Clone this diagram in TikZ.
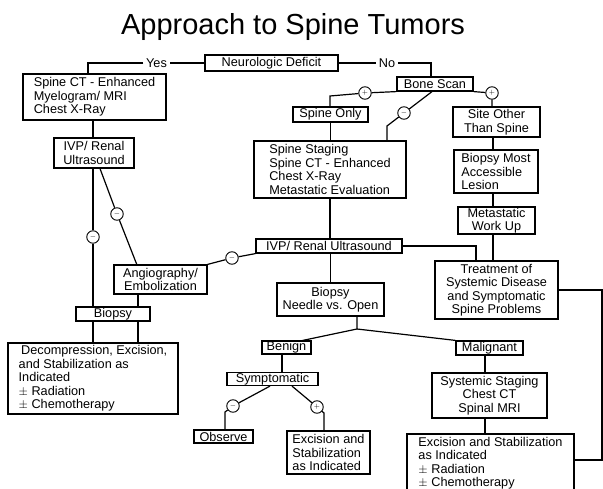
\documentclass[tikz,border=0pt]{standalone}
\usepackage{fontspec}
\setmainfont{Liberation Sans}
\begin{document}
\begin{tikzpicture}[x=1pt,y=-1pt,
  box/.style={draw, line width=1.2pt, inner sep=0pt, align=center, font=\fontsize{12.7}{13.5}\selectfont},
  lbox/.style={box, align=left},
  lbl/.style={fill=white, inner xsep=2.5pt, inner ysep=1pt, font=\fontsize{12.7}{13.5}\selectfont},
  circ/.style={draw, circle, fill=white, line width=0.9pt, minimum size=12.5pt, inner sep=0pt, font=\fontsize{7}{7}\selectfont},
  conn/.style={line width=1.2pt}]
\useasboundingbox (0,0) rectangle (603,489);
\clip (0,0) rectangle (603,489);
\fill[white] (0,0) rectangle (603,489);

% title
\node[font=\fontsize{29}{30}\selectfont, anchor=base, inner sep=0pt] (title) at (293,35) {Approach to Spine Tumors};

% nodes
\node[box, minimum width=133pt, minimum height=16pt] (nd) at (271.5,63) {Neurologic Deficit};
\node[lbox, minimum width=143pt, minimum height=46pt] (sct) at (94.5,97) {Spine CT - Enhanced\\Myelogram/ MRI\\Chest X-Ray};
\node[box, minimum width=80pt, minimum height=30pt] (ivpl) at (94,153) {IVP/ Renal\\Ultrasound};
\node[box, minimum width=93pt, minimum height=29pt] (ang) at (160.5,279.5) {Angiography/\\Embolization};
\node[box, minimum width=74pt, minimum height=14pt] (bl) at (113,314) {Biopsy};
\node[lbox, minimum width=170pt, minimum height=71pt] (dec) at (93,378.5) {\hspace{2.5pt}Decompression, Excision,\\and Stabilization as\\Indicated\\$\pm$ Radiation\\$\pm$ Chemotherapy};

\node[box, minimum width=76pt, minimum height=14pt] (bs) at (435,84) {Bone Scan};
\node[box, minimum width=75pt, minimum height=15pt] (so) at (330.5,114.5) {Spine Only};
\node[lbox, minimum width=152pt, minimum height=57pt] (ss) at (330,169.5) {Spine Staging\\Spine CT - Enhanced\\Chest X-Ray\\Metastatic Evaluation};
\node[box, minimum width=87pt, minimum height=30pt] (sot) at (496.5,122) {Site Other\\Than Spine};
\node[lbox, minimum width=84pt, minimum height=43pt] (bma) at (496,171.5) {Biopsy Most\\Accessible\\Lesion};
\node[box, minimum width=77pt, minimum height=27pt] (mwu) at (496.5,220.5) {Metastatic\\Work Up};
\node[box, minimum width=146pt, minimum height=14pt] (ivpc) at (329,246) {IVP/ Renal Ultrasound};
\node[box, minimum width=123pt, minimum height=58pt] (trt) at (496.5,290) {Treatment of\\Systemic Disease\\and Symptomatic\\Spine Problems};
\node[box, minimum width=107pt, minimum height=33pt] (bno) at (330.5,299.5) {Biopsy\\Needle vs. Open};
\node[box, minimum width=49pt, minimum height=13pt] (ben) at (286.5,347.5) {Benign};
\node[box, minimum width=67pt, minimum height=14pt] (mal) at (489.5,348) {Malignant};
\node[box, minimum width=91pt, minimum height=13pt] (sym) at (272.5,379) {Symptomatic};
\node[box, minimum width=59pt, minimum height=13pt] (obs) at (223.5,436.5) {Observe};
\node[lbox, minimum width=83pt, minimum height=43pt] (exs) at (328.5,452.5) {Excision and\\Stabilization\\as Indicated};
\node[box, minimum width=115pt, minimum height=45pt] (sys) at (489.5,395.5) {Systemic Staging\\Chest CT\\Spinal MRI};
\node[lbox, minimum width=167pt, minimum height=58pt] (exl) at (490.5,463) {Excision and Stabilization\\as Indicated\\$\pm$ Radiation\\$\pm$ Chemotherapy};

% labels
\node[lbl] (yes) at (156.5,63) {Yes};
\node[lbl] (no) at (387,63) {No};

% circles
\node[circ] (c1) at (93,237) {$-$};
\node[circ] (c2) at (117,214) {$-$};
\node[circ] (c3) at (232,258) {$-$};
\node[circ] (c4) at (365,93) {$+$};
\node[circ] (c5) at (404,113) {$-$};
\node[circ] (c6) at (492,93) {$+$};
\node[circ] (c7) at (233,406) {$-$};
\node[circ] (c8) at (317,407) {$+$};

% coordinates
\coordinate (ky) at (88,63);
\coordinate (kn) at (431,63);
\coordinate (k2a) at (100,0);
\coordinate (k2b) at (137,265);
\coordinate (x138) at (138,0);
\coordinate (k4) at (330,96);
\coordinate (k5a) at (432,0);
\coordinate (k5) at (387,126);
\coordinate (x493) at (493,0);
\coordinate (k14) at (476,246);
\coordinate (j) at (357,329);
\coordinate (jb) at (300,341);
\coordinate (x282) at (282,0);
\coordinate (k7a) at (270,0);
\coordinate (k7) at (225,412);
\coordinate (k8a) at (292,0);
\coordinate (k8) at (324,413);
\coordinate (x485) at (485,0);
\coordinate (r1) at (602,290);
\coordinate (r2) at (602,460);

% connectors
\begin{scope}[conn]
\draw (nd.west) -- (yes.east);
\draw (yes.west) -- (ky) -- (ky |- sct.north);
\draw (nd.east) -- (no.west);
\draw (no.east) -- (kn) -- (kn |- bs.north);
\draw (c1 |- sct.south) -- (c1 |- ivpl.north);
\draw (c1 |- ivpl.south) -- (c1) -- (c1 |- bl.north);
\draw (k2a |- ivpl.south) -- (c2) -- (k2b);
\draw (ang.north east) -- (c3) -- (ivpc.south west);
\draw (x138 |- ang.south) -- (x138 |- bl.north);
\draw (c1 |- bl.south) -- (c1 |- dec.north);
\draw (x138 |- bl.south) -- (x138 |- dec.north);
\draw (bs.south west) -- (c4) -- (k4) -- (k4 |- so.north);
\draw (k5a |- bs.south) -- (c5) -- (k5) -- (k5 |- ss.north);
\draw (bs.south east) -- (c6) -- (c6 |- sot.north);
\draw (so.south) -- (so.south |- ss.north);
\draw (x493 |- sot.south) -- (x493 |- bma.north);
\draw (x493 |- bma.south) -- (x493 |- mwu.north);
\draw (x493 |- mwu.south) -- (x493 |- trt.north);
\draw (ss.south) -- (ss.south |- ivpc.north);
\draw (ivpc.east) -- (k14) -- (k14 |- trt.north);
\draw (bno.north |- ivpc.south) -- (bno.north);
\draw (j |- bno.south) -- (j) -- (jb);
\draw (j) -- (mal.north west);
\draw (x282 |- ben.south) -- (x282 |- sym.north);
\draw (k7a |- sym.south) -- (c7) -- (k7) -- (k7 |- obs.north);
\draw (k8a |- sym.south) -- (c8) -- (k8) -- (k8 |- exs.north);
\draw (x485 |- mal.south) -- (x485 |- sys.north);
\draw (x485 |- sys.south) -- (x485 |- exl.north);
\draw (trt.east) -- (r1) -- (r2) -- (r2 -| exl.east);
\end{scope}
\end{tikzpicture}
\end{document}
